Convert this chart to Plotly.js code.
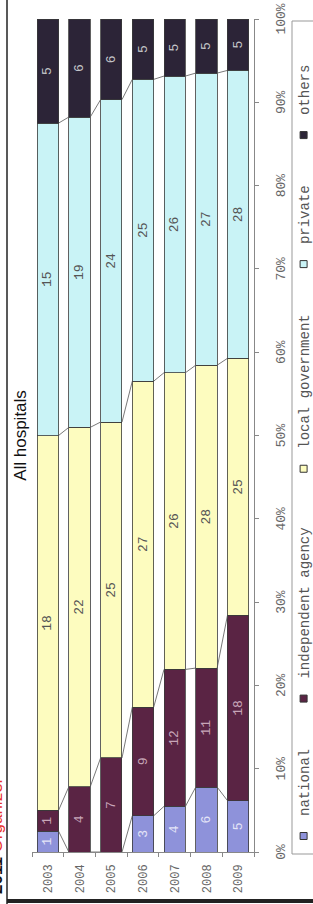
<!DOCTYPE html>
<html>
<head>
<meta charset="utf-8">
<script src="https://cdn.plot.ly/plotly-3.0.1.min.js"></script>
<style>
  html, body { margin: 0; padding: 0; background: #ffffff; overflow: hidden; }
  #page { position: absolute; left: 0; top: 0; width: 313px; height: 904px; overflow: hidden; background: #fff; }
  #plot { position: absolute; left: 0; top: 0; width: 904px; height: 313px;
          transform-origin: 0 0; transform: translateY(904px) rotate(-90deg); }
</style>
</head>
<body>
<div id="page"><div id="plot"></div></div>
<script>
// ---- data (hospital counts per founder type) ----
const years = ['2003', '2004', '2005', '2006', '2007', '2008', '2009'];
const national = [1, 0, 0, 3, 4, 6, 5];
const independentAgency = [1, 4, 7, 9, 12, 11, 18];
const localGovernment = [18, 22, 25, 27, 26, 28, 25];
const privateHosp = [15, 19, 24, 25, 26, 27, 28];
const others = [5, 6, 6, 5, 5, 5, 5];
const seriesNames = ['national', 'independent agency', 'local government', 'private', 'others'];
const chartTitle = 'All hospitals';

// ---- styling ----
const series = [national, independentAgency, localGovernment, privateHosp, others];
const fills = ['#8e92da', '#5a2444', '#fdfcbf', '#c9f3f6', '#2c2437'];
const textColors = ['#e4e4f7', '#c7a6b8', '#555555', '#555555', '#c4c4c8'];
const mono = 'Liberation Mono, Courier New, monospace';
const BW = 0.675;
const pos = years.map((_, i) => i);

const traces = [];
series.forEach((vals, s) => {
  traces.push({
    type: 'bar', orientation: 'h', name: seriesNames[s],
    y: pos, x: vals, width: BW,
    marker: { color: fills[s], line: { color: '#3a3a3a', width: 0.8 } },
    text: vals.map(v => v > 0 ? String(v) : ''),
    textposition: 'inside', insidetextanchor: 'middle', textangle: 0,
    insidetextfont: { family: mono, size: 13, color: textColors[s] },
    showlegend: false, hoverinfo: 'skip'
  });
});

// series lines between consecutive bars (cumulative percent boundaries)
const totals = years.map((_, i) => series.reduce((a, arr) => a + arr[i], 0));
for (let s = 0; s < series.length - 1; s++) {
  const cum = years.map((_, i) => {
    let c = 0; for (let k = 0; k <= s; k++) c += series[k][i];
    return 100 * c / totals[i];
  });
  const lx = [], ly = [];
  for (let i = 0; i < years.length - 1; i++) {
    lx.push(cum[i], cum[i + 1], null);
    ly.push(pos[i] + BW / 2, pos[i + 1] - BW / 2, null);
  }
  traces.push({ type: 'scatter', mode: 'lines', x: lx, y: ly,
    line: { color: '#555555', width: 0.8 }, showlegend: false, hoverinfo: 'skip' });
}

// legend entries (non-breaking spaces only widen the entry spacing)
const nb = n => '\u00a0'.repeat(n);
const legendPad = [nb(3), nb(4), nb(3), nb(3), ''];
series.forEach((vals, s) => {
  traces.push({ type: 'scatter', mode: 'markers', x: [null], y: [null],
    name: seriesNames[s] + legendPad[s],
    marker: { symbol: 'square', size: 7, color: fills[s], line: { color: '#333', width: 1 } },
    showlegend: true, hoverinfo: 'skip' });
});

// geometry helpers (pixel -> paper) in the un-rotated 904x313 frame
const M = { l: 52, r: 19, t: 32, b: 59 };
const PW = 904 - M.l - M.r, PH = 313 - M.t - M.b;
const px = u => (u - M.l) / PW;
const py = v => (313 - M.b - v) / PH;

const layout = {
  width: 904, height: 313,
  margin: { l: M.l, r: M.r, t: M.t, b: M.b, autoexpand: false },
  paper_bgcolor: '#ffffff', plot_bgcolor: '#ffffff',
  barmode: 'stack', barnorm: 'percent',
  showlegend: true,
  title: { text: chartTitle, x: 0.5, xref: 'paper', xanchor: 'center',
    y: 1 - 20 / 313, yref: 'container', yanchor: 'middle',
    font: { family: 'Liberation Sans, Arial, sans-serif', size: 17, color: '#111' } },
  xaxis: { range: [0, 100], dtick: 10, tick0: 0, ticksuffix: '%',
    ticks: 'outside', ticklen: 4, tickcolor: '#888', showgrid: false, zeroline: false,
    showline: true, linecolor: '#888', linewidth: 1,
    tickfont: { family: mono, size: 13, color: '#666' }, ticklabelstandoff: 10, fixedrange: true },
  yaxis: { range: [6.5, -0.5], tickmode: 'array', tickvals: pos, ticktext: years,
    ticks: '', showgrid: false, zeroline: false, showline: true, linecolor: '#888', linewidth: 1,
    minor: { tick0: -0.5, dtick: 1, ticks: 'outside', ticklen: 4, tickcolor: '#888' },
    tickfont: { family: mono, size: 12, color: '#666' }, ticklabelstandoff: 9, fixedrange: true },
  legend: { orientation: 'h', x: px(48), xanchor: 'left', y: py(288), yanchor: 'top',
    bgcolor: 'rgba(0,0,0,0)', borderwidth: 0, itemwidth: 30, itemsizing: 'trace',
    font: { family: mono, size: 14, color: '#555' }, traceorder: 'normal' },
  shapes: [
    { type: 'rect', xref: 'paper', yref: 'paper', x0: px(50), x1: px(883), y0: py(340), y1: py(292),
      line: { color: '#999', width: 1 }, fillcolor: 'rgba(0,0,0,0)' },
    { type: 'line', xref: 'paper', yref: 'paper', x0: px(0), x1: px(904), y0: py(7), y1: py(7),
      line: { color: '#222', width: 1.5 } },
    { type: 'line', xref: 'paper', yref: 'paper', x0: px(3), x1: px(3), y0: py(7), y1: py(330),
      line: { color: '#222', width: 4 } }
  ],
  annotations: [
    { text: '<b>2011</b> <span style="color:#e8322e">Organizer</span>', xref: 'paper', yref: 'paper',
      x: px(8), xanchor: 'left', y: py(8), yanchor: 'bottom', showarrow: false,
      font: { family: 'Liberation Sans, Arial, sans-serif', size: 17, color: '#111' } }
  ]
};

Plotly.newPlot('plot', traces, layout, { staticPlot: true, displayModeBar: false });
</script>
</body>
</html>
